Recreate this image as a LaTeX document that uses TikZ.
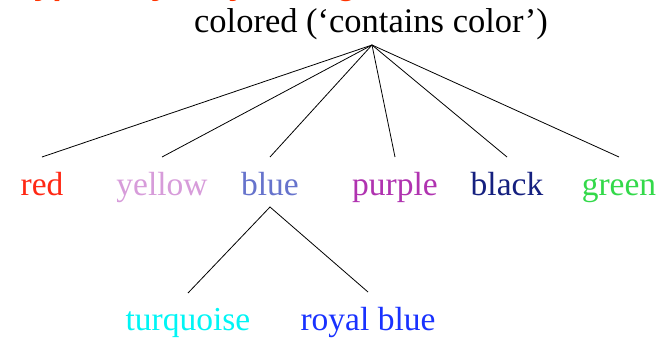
\documentclass[tikz,border=0pt]{standalone}
\usepackage{fontspec}
\setmainfont{Liberation Serif}
\newfontfamily\titlesans{Liberation Sans}
\usetikzlibrary{calc}
\definecolor{cred}{RGB}{255,40,20}
\definecolor{cyellow}{RGB}{215,156,218}
\definecolor{cblue}{RGB}{102,115,204}
\definecolor{cpurple}{RGB}{176,51,176}
\definecolor{cblack}{RGB}{21,32,127}
\definecolor{cgreen}{RGB}{51,217,74}
\definecolor{cturq}{RGB}{0,245,245}
\definecolor{croyal}{RGB}{25,50,255}
\definecolor{ctitle}{RGB}{255,51,0}
\tikzset{
  lbl/.style={anchor=base, inner sep=0pt, font=\fontsize{33.5}{40}\selectfont},
  edge/.style={draw=black, line width=0.8pt}
}
\begin{document}
\begin{tikzpicture}[x=1pt,y=-1pt]
\useasboundingbox (0,0) rectangle (669,340);
\clip (0,0) rectangle (669,340);
\node[anchor=base west, inner sep=0pt, text=ctitle, font=\titlesans\bfseries\fontsize{34}{40}\selectfont] (title) at (15,-5.5) {Typicality may change};
\node[lbl, font=\fontsize{34.5}{40}\selectfont] (root) at (371,32) {colored (‘contains color’)};
\coordinate (apex) at (372,45);
\node[lbl, text=cred] (red) at (42,195) {red};
\node[lbl, text=cyellow] (yellow) at (162,195) {yellow};
\node[lbl, text=cblue] (blue) at (270,195) {blue};
\node[lbl, text=cpurple] (purple) at (395,195) {purple};
\node[lbl, text=cblack] (black) at (507,195) {black};
\node[lbl, text=cgreen] (green) at (619,195) {green};
\node[lbl, text=cturq] (turq) at (188,330) {turquoise};
\node[lbl, text=croyal] (royal) at (368,330) {royal blue};
\foreach \n in {red,yellow,blue,purple,black,green}
  \draw[edge] (apex) -- ([yshift=38pt]\n.base);
\draw[edge] ([yshift=37pt]turq.base) -- ([yshift=-12pt]blue.base) -- ([yshift=38pt]royal.base);
\end{tikzpicture}
\end{document}
